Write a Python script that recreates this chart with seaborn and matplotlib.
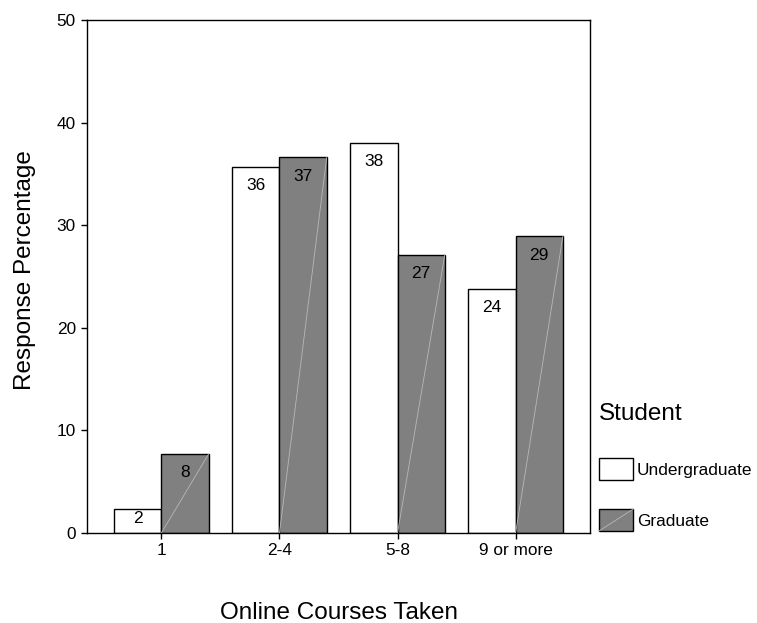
import numpy as np
import pandas as pd
import matplotlib.pyplot as plt
import seaborn as sns
from matplotlib.patches import Rectangle
from matplotlib.lines import Line2D

courses = ["1", "2-4", "5-8", "9 or more"]
students = ["Undergraduate", "Graduate"]
undergrad = [2.3, 35.7, 38.0, 23.8]
grad = [7.7, 36.6, 27.1, 28.9]

df = pd.DataFrame({
    "course": courses * 2,
    "pct": undergrad + grad,
    "student": [students[0]] * len(courses) + [students[1]] * len(courses),
})

sns.set_theme(style="ticks")
plt.rcParams["font.family"] = ["Liberation Sans", "DejaVu Sans"]
for k in ["text.color", "axes.labelcolor", "xtick.color", "ytick.color", "axes.edgecolor"]:
    plt.rcParams[k] = "black"

fig = plt.figure(figsize=(7.57, 6.23), dpi=100)
ax = fig.add_axes([87 / 757, 90 / 623, 503 / 757, 513 / 623])

sns.barplot(data=df, x="course", y="pct", hue="student", hue_order=students,
            order=courses, palette={"Undergraduate": "white", "Graduate": "#808080"},
            saturation=1, edgecolor="black", linewidth=1, width=0.8,
            legend=False, ax=ax)

# faint diagonal across each graduate bar
for p in ax.containers[1]:
    x0, w, h = p.get_x(), p.get_width(), p.get_height()
    ax.plot([x0, x0 + w], [0, h], color="#b8b8b8", lw=0.6, zorder=3)

for cont in ax.containers:
    for p in cont:
        h = p.get_height()
        off = -8 if h > 5 else -1.5
        ax.annotate(f"{h:.0f}", (p.get_x() + p.get_width() / 2, h),
                    xytext=(0, off), textcoords="offset points",
                    ha="center", va="top", fontsize=12.5, zorder=4)

ax.set_ylim(0, 50)
ax.set_yticks(range(0, 51, 10))
ax.set_xlim(-0.63, 3.63)
for s in ax.spines.values():
    s.set_visible(True)
    s.set_color("black")
    s.set_linewidth(1)
ax.tick_params(axis="both", labelsize=12.4, length=4, width=1, color="black")
ax.tick_params(axis="y", pad=4)
ax.tick_params(axis="x", pad=3)
ax.set_xlabel("Online Courses Taken", fontsize=17.5, labelpad=32)
ax.set_ylabel("Response Percentage", fontsize=17.5, labelpad=14.5)
ax.yaxis.label.set_y(0.513)


class BoxHandler:
    def __init__(self, diagonal):
        self.diagonal = diagonal

    def legend_artist(self, legend, orig_handle, fontsize, handlebox):
        x0, y0 = -handlebox.xdescent, -handlebox.ydescent
        w, h = handlebox.width, handlebox.height
        tr = handlebox.get_transform()
        rect = Rectangle((x0, y0), w, h, facecolor=orig_handle.get_facecolor(),
                         edgecolor="black", lw=1, transform=tr)
        handlebox.add_artist(rect)
        if self.diagonal:
            handlebox.add_artist(Line2D([x0, x0 + w], [y0, y0 + h],
                                        color="#b8b8b8", lw=0.6, transform=tr))
        return rect


handles = [c.patches[0] for c in ax.containers]
leg = ax.legend(handles, students,
                handler_map={handles[0]: BoxHandler(False), handles[1]: BoxHandler(True)},
                title="Student", title_fontsize=17.5, fontsize=12.4, frameon=False,
                loc="upper left", bbox_to_anchor=(599 / 757, 1 - 403 / 623),
                bbox_transform=fig.transFigure, borderpad=0, borderaxespad=0,
                handlelength=2.0, handleheight=1.6, handletextpad=0.2,
                labelspacing=1.65, alignment="left")
leg._legend_box.sep = 24

fig.savefig("out.png", dpi=100, facecolor="white")
